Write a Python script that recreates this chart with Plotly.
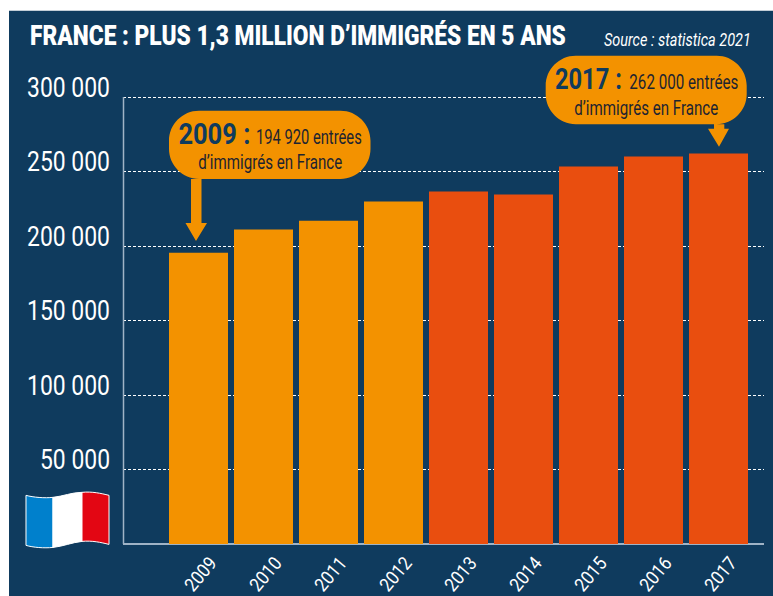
import json
import plotly.graph_objects as go

years = ["2009", "2010", "2011", "2012", "2013", "2014", "2015", "2016", "2017"]
values = [195500, 211000, 217000, 229800, 236500, 234500, 253300, 260000, 262000]
colors = ["#F39200"] * 4 + ["#E94E0F"] * 5
y_ticks = [0, 50000, 100000, 150000, 200000, 250000, 300000]
y_labels = ["", "50 000", "100 000", "150 000", "200 000", "250 000", "300 000"]

TITLE = "FRANCE : PLUS 1,3 MILLION D’IMMIGRÉS EN 5 ANS"
SOURCE = "Source : statistica 2021"
BG = "#0F3B5E"
ORANGE = "#F39200"
DARK = "#1D2430"
AXIS = "#9FB3C6"
FONT = "Roboto, DejaVu Sans Condensed"

L, R, B = 123, 764, 543.6
Y300 = 97.2          # pixel row of the 300 000 gridline
T = Y300 - 3         # a little headroom so the top gridline is drawn
Y_MAX = 300000 * (B - T) / (B - Y300)
W, H = 773, 596


def px(x):
    return (x - L) / (R - L)


def py(y):
    return (B - y) / (B - T)


def path(cmds):
    out = []
    for c in cmds:
        if isinstance(c, str):
            out.append(c)
        else:
            out.append(f"{px(c[0]):.5f},{py(c[1]):.5f}")
    return " ".join(out)


def pshape(cmds, fill, line=None, lw=0, layer="above"):
    return dict(type="path", xref="paper", yref="paper", path=path(cmds), fillcolor=fill,
                line=dict(color=line or fill, width=lw), layer=layer)


def callout(x0, y0, x1, y1, r, sx0, sx1, hx0, hx1, tip_x, tip_y, hy):
    k = r * 0.45
    return [
        "M", (x0 + r, y0), "L", (x1 - r, y0),
        "C", (x1 - k, y0), (x1, y0 + k), (x1, y0 + r),
        "L", (x1, y1 - r),
        "C", (x1, y1 - k), (x1 - k, y1), (x1 - r, y1),
        "L", (sx1, y1), "L", (sx1, hy), "L", (hx1, hy), "L", (tip_x, tip_y), "L", (hx0, hy),
        "L", (sx0, hy), "L", (sx0, y1),
        "L", (x0 + r, y1),
        "C", (x0 + k, y1), (x0, y1 - k), (x0, y1 - r),
        "L", (x0, y0 + r),
        "C", (x0, y0 + k), (x0 + k, y0), (x0 + r, y0), "Z",
    ]


fig = go.Figure(go.Bar(x=list(range(len(years))), y=values, marker=dict(color=colors, line_width=0),
                       width=59 / 65))

shapes = [
    dict(type="rect", xref="paper", yref="paper", x0=px(9), x1=px(773), y0=py(11), y1=py(596),
         fillcolor=BG, line_width=0, layer="below"),
    dict(type="line", xref="paper", yref="paper", x0=px(123.5), x1=px(123.5), y0=py(Y300), y1=py(B),
         line=dict(color=AXIS, width=1.5), layer="above"),
    pshape(["M", (26, 495), "C", (33, 497), (45, 498), (53, 497), "L", (53, 547),
            "C", (44, 548), (33, 547), (26, 545), "Z"], "#0080CC", "#FFFFFF", 1),
    pshape(["M", (53, 497), "C", (63, 496), (72, 492), (82, 492), "L", (82, 541),
            "C", (72, 542), (63, 546), (53, 547), "Z"], "#FFFFFF", "#FFFFFF", 1),
    pshape(["M", (82, 492), "C", (92, 491), (101, 493), (109, 495), "L", (109, 544),
            "C", (101, 542), (92, 540), (82, 541), "Z"], "#E30613", "#FFFFFF", 1),
    pshape(callout(169, 111, 370.5, 179, 30, 191, 201.5, 185.5, 207, 196, 241, 223), ORANGE),
    pshape(callout(545.7, 56, 746.7, 124.3, 30, 714, 724.3, 708, 729, 719, 147, 129), ORANGE),
]

# The reference uses a condensed face: rendered widths (px) of the real text elements.
text_widths = {TITLE: 536, SOURCE: 147, "2009 :": 72, "2017 :": 67, "194 920 entrées": 106,
               "262 000 entrées": 109, "d’immigrés en France": 144,
               "300 000": 83, "250 000": 83, "200 000": 83, "150 000": 83, "100 000": 83,
               "50 000": 70}
for y in years:
    text_widths[y] = 38


def note(x, y, text, size, color="#FFFFFF", weight=400, style="normal"):
    return dict(xref="paper", yref="paper", x=px(x), y=py(y), text=text, showarrow=False,
                xanchor="center", yanchor="middle", align="center",
                font=dict(size=size, color=color, family=FONT, weight=weight, style=style))


annotations = [
    note(298, 36, TITLE, 28, weight=900),
    note(677.5, 40, SOURCE, 18, style="italic"),
    note(214, 134, "2009 :", 30, BG, weight=700),
    note(309, 137, "194 920 entrées", 20, DARK),
    note(270, 162, "d’immigrés en France", 20, DARK),
    note(588.5, 79, "2017 :", 30, BG, weight=700),
    note(683.5, 82, "262 000 entrées", 20, DARK),
    note(646.5, 108, "d’immigrés en France", 20, DARK),
]

fig.update_layout(
    width=W, height=H, margin=dict(l=L, r=W - R, t=T, b=H - B, pad=0, autoexpand=False),
    paper_bgcolor="#FFFFFF", plot_bgcolor=BG, showlegend=False,
    shapes=shapes, annotations=annotations,
    font=dict(family=FONT, color="#FFFFFF"),
    xaxis=dict(range=[(L - 198.5) / 65, (R - 198.5) / 65], tickmode="array", automargin=False,
               tickvals=list(range(len(years))), ticktext=years, tickangle=-50, showgrid=False,
               zeroline=False, showline=False, ticks="", tickfont=dict(size=19, color="#FFFFFF"),
               ticklabelstandoff=3, ticklabelshift=12),
    yaxis=dict(range=[0, Y_MAX], tickmode="array", tickvals=y_ticks, ticktext=y_labels, automargin=False,
               showgrid=True, gridcolor="#FFFFFF", griddash="3px,2px", gridwidth=1,
               zeroline=True, zerolinecolor=AXIS, zerolinewidth=2,
               showline=False, ticks="",
               tickfont=dict(size=28, color="#FFFFFF", weight=400), ticklabelstandoff=12, ticklabelshift=-10),
)

post = """
document.body.style.margin='0';
var widths = %s;
document.querySelectorAll('.annotation-text').forEach(function (t) {
  var w = widths[t.textContent];
  if (!w) return;
  var b = t.getBBox(), cx = b.x + b.width / 2, f = w / t.getComputedTextLength();
  var old = t.getAttribute('transform') || '';
  t.setAttribute('transform', old + ' translate(' + cx + ',0) scale(' + f + ',1) translate(' + (-cx) + ',0)');
});
document.querySelectorAll('.xtick text, .ytick text').forEach(function (t) {
  var w = widths[t.textContent];
  if (w) { t.setAttribute('textLength', w); t.setAttribute('lengthAdjust', 'spacingAndGlyphs'); }
});
""" % json.dumps(text_widths, ensure_ascii=False)

fig.write_html("out.html", post_script=post, config={"displayModeBar": False})
